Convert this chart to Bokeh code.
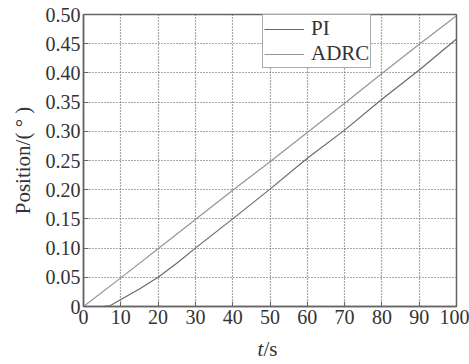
from bokeh.plotting import figure
from bokeh.models import FixedTicker, Range1d, Legend, LegendItem, Label
from bokeh.layouts import column
from bokeh.embed import file_html
from bokeh.resources import INLINE

# data
t_pi = [0, 5, 7, 10, 15, 20, 25, 30, 40, 50, 60, 70, 80, 90, 100]
pi_vals = [0, 0, 0.001, 0.012, 0.030, 0.050, 0.074, 0.100, 0.150, 0.201, 0.254, 0.302, 0.355, 0.405, 0.458]
t_adrc = [0, 10, 20, 30, 40, 50, 60, 70, 80, 90, 100]
adrc_vals = [0, 0.049, 0.099, 0.149, 0.199, 0.248, 0.298, 0.348, 0.399, 0.449, 0.498]
x_ticks = [0, 10, 20, 30, 40, 50, 60, 70, 80, 90, 100]
y_ticks = [0, 0.05, 0.10, 0.15, 0.20, 0.25, 0.30, 0.35, 0.40, 0.45, 0.50]
y_tick_labels = ["0", "0.05", "0.10", "0.15", "0.20", "0.25", "0.30", "0.35", "0.40", "0.45", "0.50"]
x_label_italic = "t"
x_label_rest = "/s"
y_label = "Position/( ° )"

FONT = "Liberation Serif"
FS = "20px"
TEXT = "#333333"

p = figure(width=469, height=336, output_backend="svg", toolbar_location=None,
           x_range=Range1d(0, 100), y_range=Range1d(0, 0.5),
           min_border_left=83, min_border_right=13, min_border_top=14, min_border_bottom=30)
p.background_fill_color = "white"
p.border_fill_color = "white"
p.outline_line_color = "#666666"
p.outline_line_width = 1.5

l1 = p.line(t_pi, pi_vals, line_color="#6a6a6a", line_width=1.2)
l2 = p.line(t_adrc, adrc_vals, line_color="#959595", line_width=1.2)

for ax in (p.xaxis[0], p.yaxis[0]):
    ax.major_label_text_font = FONT
    ax.major_label_text_font_size = FS
    ax.major_label_text_color = TEXT
    ax.axis_line_color = "#666666"
    ax.axis_line_width = 1.5
    ax.major_tick_in = 5
    ax.major_tick_out = 0
    ax.major_tick_line_color = "#666666"
    ax.minor_tick_line_color = None
    ax.major_label_standoff = 3

p.xaxis.ticker = FixedTicker(ticks=x_ticks)
p.yaxis.ticker = FixedTicker(ticks=y_ticks)
p.yaxis.major_label_overrides = {v: s for v, s in zip(y_ticks, y_tick_labels)}

p.yaxis.axis_label = y_label
p.yaxis.axis_label_text_font = FONT
p.yaxis.axis_label_text_font_size = "21px"
p.yaxis.axis_label_text_font_style = "normal"
p.yaxis.axis_label_text_color = TEXT
p.yaxis.axis_label_standoff = 8

for g in (p.xgrid[0], p.ygrid[0]):
    g.grid_line_color = "#555555"
    g.grid_line_dash = "1 2"
    g.grid_line_width = 1.2

legend = Legend(items=[LegendItem(label="PI", renderers=[l1]),
                       LegendItem(label="ADRC", renderers=[l2])],
                location=(179, 238))
legend.label_text_font = FONT
legend.label_text_font_size = "21px"
legend.label_text_color = TEXT
legend.label_height = 22
legend.glyph_height = 22
legend.glyph_width = 40
legend.padding = 1
legend.spacing = 0
legend.margin = 0
legend.label_standoff = 7
legend.border_line_color = "#555555"
legend.border_line_width = 1.5
legend.background_fill_alpha = 1
p.add_layout(legend)

# strip below for the x-axis label (italic t + upright /s); frame aligned with p's frame
p2 = figure(width=469, height=28, output_backend="svg", toolbar_location=None,
            x_range=Range1d(0, 100), y_range=Range1d(0, 28),
            min_border_left=83, min_border_right=13, min_border_top=0, min_border_bottom=0)
p2.axis.visible = False
p2.grid.visible = False
p2.outline_line_color = None
p2.background_fill_color = "white"
p2.border_fill_color = "white"
p2.add_layout(Label(x=174, y=16, x_units="screen", y_units="screen", text=x_label_italic,
                    text_font=FONT, text_font_size="21px", text_font_style="italic",
                    text_color=TEXT, text_baseline="alphabetic"))
p2.add_layout(Label(x=180, y=16, x_units="screen", y_units="screen", text=x_label_rest,
                    text_font=FONT, text_font_size="21px",
                    text_color=TEXT, text_baseline="alphabetic"))

layout = column(p, p2, spacing=0)
open("out.html", "w").write(file_html(layout, INLINE))
